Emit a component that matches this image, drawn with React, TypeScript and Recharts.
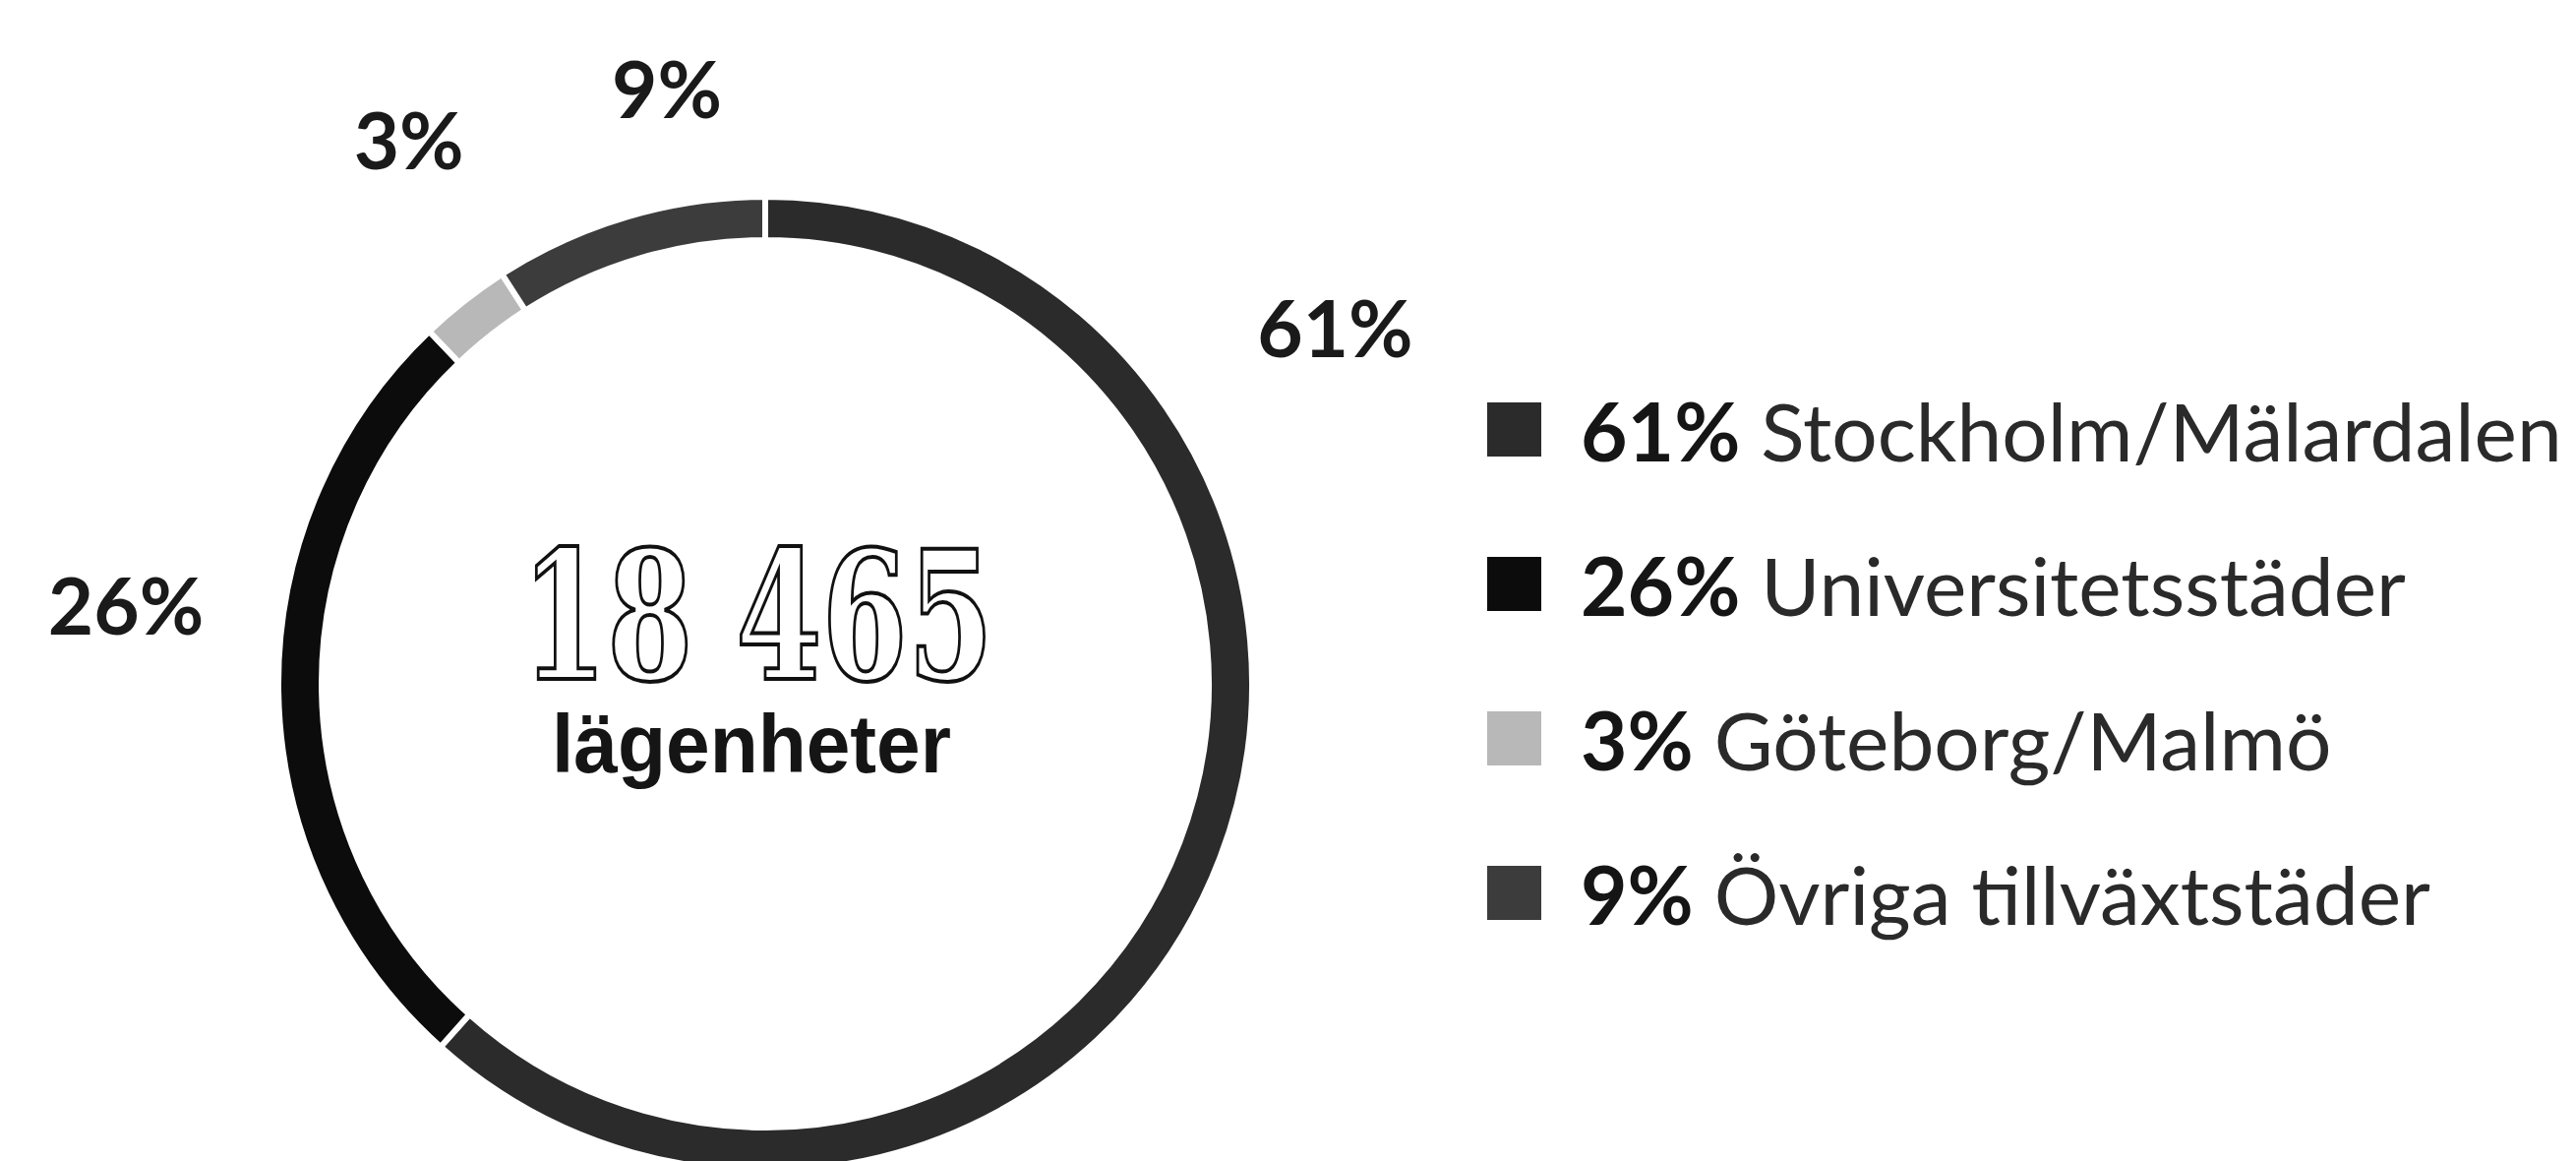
import { PieChart, Pie, Cell, Legend } from 'recharts'

const regions = [
  'Stockholm/Mälardalen',
  'Universitetsstäder',
  'Göteborg/Malmö',
  'Övriga tillväxtstäder',
]
const shares = [61, 26, 3, 9]
const totalApartments = '18 465'
const unitLabel = 'lägenheter'

const data = regions.map((name, i) => ({ name, value: shares[i] }))

const W = 2619
const H = 1180
const CX = 778
const CY = 695
const COLORS = ['#2b2b2b', '#0c0c0c', '#b8b8b8', '#3c3c3c']
// labels were dragged around by hand in the original, so nudge them off the mid-angle
const LABEL_NUDGE = [53, -8, -5, -7]
const LABEL_DIST = [684, 655, 662, 614]
const RADIAN = Math.PI / 180

const renderPctLabel = (props: any) => {
  const { cx, cy, midAngle, index, value } = props
  const a = (midAngle + LABEL_NUDGE[index]) * RADIAN
  const r = LABEL_DIST[index]
  return (
    <text
      x={cx + r * Math.cos(-a)}
      y={cy + r * Math.sin(-a)}
      textAnchor="middle"
      dominantBaseline="central"
      fontFamily="Lato"
      fontWeight={700}
      fontSize={80}
      fill="#1a1a1a"
    >
      {value}%
    </text>
  )
}

const renderLegend = (props: any) => {
  const payload = [...(props.payload || [])].sort(
    (a: any, b: any) => regions.indexOf(a.value) - regions.indexOf(b.value)
  )
  return (
    <div>
      {payload.map((entry: any, i: number) => {
        const idx = regions.indexOf(entry.value)
        return (
          <div key={i} style={{ display: 'flex', alignItems: 'center', height: 157 }}>
            <span
              style={{
                width: 55,
                height: 55,
                background: entry.color,
                marginRight: 40,
                flex: 'none',
              }}
            />
            <span
              style={{
                fontFamily: 'Lato',
                fontSize: 82,
                color: '#2a2a2a',
                whiteSpace: 'nowrap',
              }}
            >
              <b style={{ color: '#151515' }}>{shares[idx]}%</b> {entry.value}
            </span>
          </div>
        )
      })}
    </div>
  )
}

export default function App() {
  return (
    <div style={{ position: 'fixed', left: 0, top: 0, width: W, height: H, background: '#fff' }}>
      <PieChart width={W} height={H} margin={{ top: 0, right: 0, bottom: 0, left: 0 }}>
        <Pie
          data={data}
          dataKey="value"
          nameKey="name"
          cx={CX}
          cy={CY}
          innerRadius={451}
          outerRadius={495}
          startAngle={90}
          endAngle={-270}
          stroke="#fff"
          strokeWidth={6}
          label={renderPctLabel}
          labelLine={false}
          isAnimationActive={false}
        >
          {data.map((d, i) => (
            <Cell key={d.name} fill={COLORS[i]} />
          ))}
        </Pie>
        <Legend
          layout="vertical"
          align="right"
          verticalAlign="top"
          itemSorter={null as any}
          content={renderLegend}
          wrapperStyle={{ left: 1512, top: 358, width: 1100 }}
        />
      </PieChart>
      {/* total in the hole of the donut */}
      <svg
        width={W}
        height={H}
        style={{ position: 'absolute', left: 0, top: 0, pointerEvents: 'none' }}
      >
        <text
          x={CX - 8}
          y={CY - 5}
          textAnchor="middle"
          fontFamily="DejaVu Serif"
          fontWeight={700}
          fontSize={182}
          textLength={480}
          lengthAdjust="spacingAndGlyphs"
          fill="#fff"
          stroke="#111"
          strokeWidth={4}
        >
          {totalApartments}
        </text>
        <text
          x={CX - 14}
          y={CY + 90}
          textAnchor="middle"
          fontFamily="Liberation Sans"
          fontWeight={700}
          fontSize={84}
          textLength={406}
          lengthAdjust="spacingAndGlyphs"
          fill="#151515"
        >
          {unitLabel}
        </text>
      </svg>
    </div>
  )
}
